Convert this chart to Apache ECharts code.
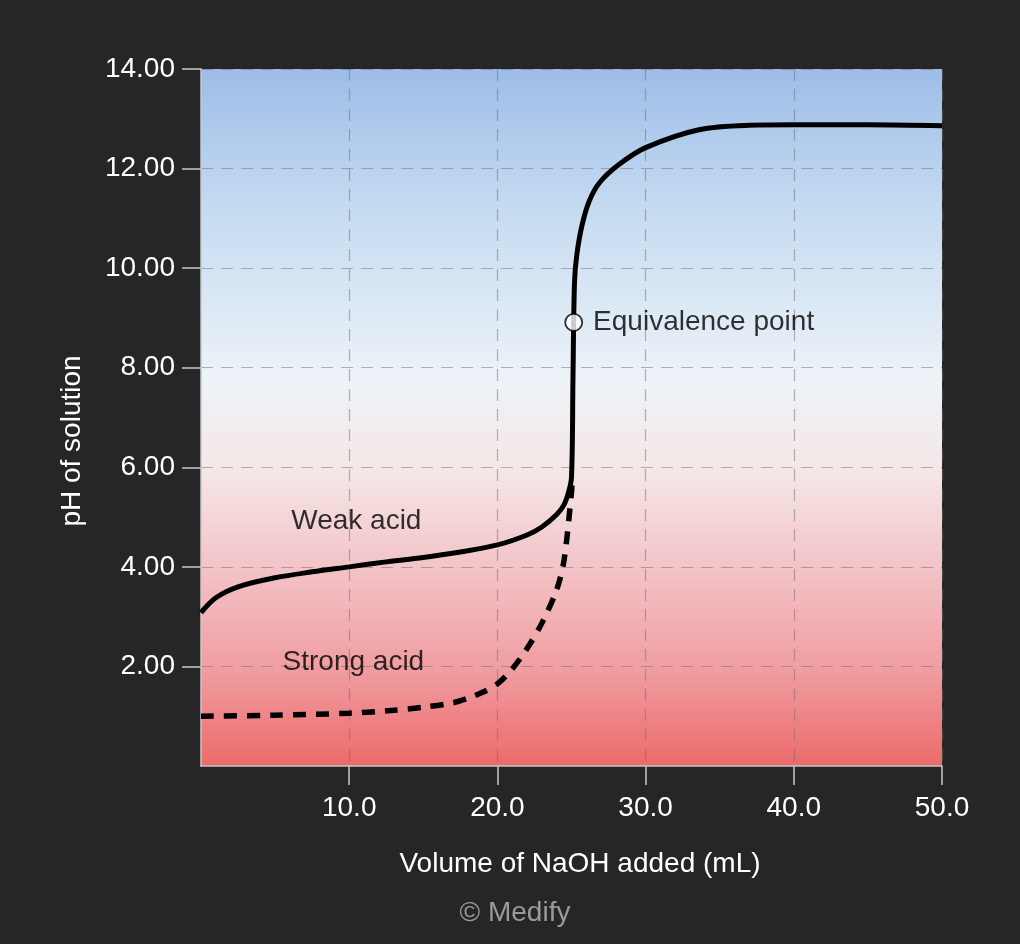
<!DOCTYPE html>
<html>
<head>
<meta charset="utf-8">
<script src="https://cdn.jsdelivr.net/npm/echarts@6/dist/echarts.min.js"></script>
<style>
  html, body { margin: 0; padding: 0; background: #262628; }
  #chart { width: 1020px; height: 944px; }
</style>
</head>
<body>
<div id="chart"></div>
<script>
  // volume of NaOH (mL) and pH
  const weakVol = [0, 1, 2.5, 5, 7.5, 10, 12.5, 15, 17.5, 20, 22, 23, 24, 24.5, 24.8, 25.0, 25.1, 25.2, 25.35, 25.7, 26.2, 26.9, 28.2, 30, 33.6, 37, 40, 45, 50];
  const weakPH = [3.08, 3.38, 3.6, 3.78, 3.9, 4.0, 4.1, 4.19, 4.3, 4.44, 4.64, 4.8, 5.05, 5.25, 5.5, 5.8, 7.8, 9.7, 10.25, 10.85, 11.35, 11.72, 12.08, 12.42, 12.78, 12.87, 12.88, 12.88, 12.86];

  const strongVol = [0, 5, 10, 13, 15, 17, 18, 19, 20, 21, 22, 23, 24, 24.5, 25, 25.05];
  const strongPH = [1.0, 1.02, 1.06, 1.12, 1.18, 1.27, 1.36, 1.48, 1.65, 1.95, 2.36, 2.87, 3.54, 4.14, 5.5, 5.8];

  const equivPoint = [25.15, 8.91];
  const curveLabels = [
    { name: 'Weak acid', value: [10.48, 4.92] },
    { name: 'Strong acid', value: [10.28, 2.09] }
  ];

  const xTicks = [10, 20, 30, 40, 50];
  const yTicks = [2, 4, 6, 8, 10, 12, 14];

  const font = '"Liberation Sans", Arial, sans-serif';
  const chart = echarts.init(document.getElementById('chart'));

  const zip = (xs, ys) => xs.map((x, i) => [x, ys[i]]);

  const option = {
    backgroundColor: '#262628',
    animation: false,
    grid: {
      left: 201,
      right: 78,
      top: 69,
      bottom: 178,
      show: true,
      borderWidth: 0,
      backgroundColor: new echarts.graphic.LinearGradient(0, 0, 0, 1, [
        { offset: 0, color: '#9dbce7' },
        { offset: 0.2, color: '#c5dbf1' },
        { offset: 0.45, color: '#eef3f8' },
        { offset: 0.58, color: '#f5e6e6' },
        { offset: 0.72, color: '#f3c2c6' },
        { offset: 0.86, color: '#f09ea2' },
        { offset: 1, color: '#ec6a6a' }
      ])
    },
    xAxis: {
      type: 'value',
      min: 0,
      max: 50,
      interval: 10,
      axisLine: { show: true, lineStyle: { color: '#c8c8c8', width: 1.5 } },
      axisTick: { show: true, length: 19, customValues: xTicks, lineStyle: { color: '#c8c8c8', width: 1.5 } },
      axisLabel: {
        customValues: xTicks,
        color: '#ffffff',
        fontFamily: font,
        fontSize: 28,
        margin: 28,
        formatter: v => v.toFixed(1)
      },
      splitLine: {
        show: true,
        lineStyle: { color: 'rgba(110,110,110,0.5)', type: [12, 8], width: 1.2 }
      }
    },
    yAxis: {
      type: 'value',
      min: 0,
      max: 14,
      interval: 2,
      axisLine: { show: true, lineStyle: { color: '#c8c8c8', width: 1.5 } },
      axisTick: { show: true, length: 19, customValues: yTicks, lineStyle: { color: '#c8c8c8', width: 1.5 } },
      axisLabel: {
        customValues: yTicks,
        color: '#ffffff',
        fontFamily: font,
        fontSize: 28,
        margin: 26,
        formatter: v => v.toFixed(2)
      },
      splitLine: {
        show: true,
        lineStyle: { color: 'rgba(110,110,110,0.5)', type: [12, 8], width: 1.2 }
      }
    },
    series: [
      {
        name: 'Strong acid',
        type: 'line',
        data: zip(strongVol, strongPH),
        smooth: 0.3,
        showSymbol: false,
        lineStyle: { color: '#000000', width: 5.5, type: [13, 10] },
        z: 3
      },
      {
        name: 'Weak acid',
        type: 'line',
        data: zip(weakVol, weakPH),
        smooth: 0.35,
        showSymbol: false,
        lineStyle: { color: '#000000', width: 5 },
        z: 4
      },
      {
        name: 'Equivalence point',
        type: 'scatter',
        data: [equivPoint],
        symbol: 'circle',
        symbolSize: 17,
        itemStyle: { color: '#ffffff', borderColor: '#000000', borderWidth: 1.8 },
        label: {
          show: true,
          position: 'right',
          distance: 10,
          formatter: 'Equivalence point',
          color: '#000000',
          fontFamily: font,
          fontSize: 28
        },
        z: 5
      },
      {
        name: 'labels',
        type: 'scatter',
        data: curveLabels,
        symbolSize: 0,
        label: {
          show: true,
          position: 'inside',
          formatter: p => p.name,
          color: '#000000',
          fontFamily: font,
          fontSize: 28
        },
        z: 5
      }
    ],
    graphic: [
      {
        type: 'text',
        x: 580,
        y: 864,
        style: {
          text: 'Volume of NaOH added (mL)',
          fill: '#ffffff',
          font: '28px ' + font,
          align: 'center',
          verticalAlign: 'middle'
        }
      },
      {
        type: 'text',
        x: 72,
        y: 441,
        rotation: Math.PI / 2,
        style: {
          text: 'pH of solution',
          fill: '#ffffff',
          font: '28px ' + font,
          align: 'center',
          verticalAlign: 'middle'
        }
      },
      {
        type: 'text',
        x: 515,
        y: 913,
        style: {
          text: '© Medify',
          fill: '#9a9a9a',
          font: '28px ' + font,
          align: 'center',
          verticalAlign: 'middle'
        }
      }
    ]
  };

  chart.setOption(option);
</script>
</body>
</html>
